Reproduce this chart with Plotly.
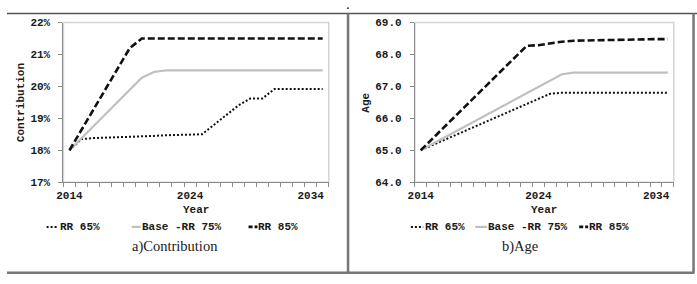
import plotly.graph_objects as go

W, H = 697, 284

years = list(range(2014, 2036))

# a) Contribution (%)
contrib_rr65 = [18.0, 18.35, 18.38, 18.39, 18.40, 18.42, 18.44, 18.45, 18.47, 18.48, 18.49, 18.50,
                18.80, 19.10, 19.40, 19.62, 19.62, 19.92, 19.92, 19.92, 19.92, 19.92]
contrib_base = [18.0, 18.38, 18.76, 19.13, 19.51, 19.89, 20.27, 20.45, 20.50, 20.50, 20.50, 20.50,
                20.50, 20.50, 20.50, 20.50, 20.50, 20.50, 20.50, 20.50, 20.50, 20.50]
contrib_rr85 = [18.0, 18.64, 19.28, 19.92, 20.56, 21.20, 21.50, 21.50, 21.50, 21.50, 21.50, 21.50,
                21.50, 21.50, 21.50, 21.50, 21.50, 21.50, 21.50, 21.50, 21.50, 21.50]

# b) Age
age_rr65 = [65.0, 65.16, 65.32, 65.48, 65.64, 65.81, 65.97, 66.13, 66.29, 66.45, 66.61, 66.77,
            66.80, 66.80, 66.80, 66.80, 66.80, 66.80, 66.80, 66.80, 66.80, 66.80]
age_base = [65.0, 65.20, 65.40, 65.59, 65.79, 65.99, 66.19, 66.39, 66.58, 66.78, 66.98, 67.18,
            67.38, 67.43, 67.43, 67.43, 67.43, 67.43, 67.43, 67.43, 67.43, 67.43]
age_rr85 = [65.0, 65.36, 65.73, 66.09, 66.45, 66.82, 67.18, 67.54, 67.91, 68.27, 68.29, 68.35,
            68.40, 68.43, 68.44, 68.45, 68.46, 68.46, 68.47, 68.47, 68.48, 68.48]

series_names = ["RR 65%", "Base -RR 75%", "RR 85%"]
x_ticks = [2014, 2024, 2034]
contrib_ticks = [17, 18, 19, 20, 21, 22]
age_ticks = [64, 65, 66, 67, 68, 69]


def px(x):
    return x / W


def py(y):
    return 1 - y / H


MONO = "Liberation Mono"
TXT = "#1a1a1a"
AXC = "#8c8c8c"
styles = [
    dict(color="#111111", width=2, dash="2px,2px"),
    dict(color="#c0c0c0", width=2.2, dash="solid"),
    dict(color="#111111", width=2.6, dash="7px,3px"),
]
swatch_dash = ["2px,2px", "solid", "4px,2px"]

fig = go.Figure()
for vals, st, nm in zip([contrib_rr65, contrib_base, contrib_rr85], styles, series_names):
    fig.add_trace(go.Scatter(x=years, y=vals, mode="lines", line=st, name=nm,
                             xaxis="x", yaxis="y", showlegend=False))
for vals, st, nm in zip([age_rr65, age_base, age_rr85], styles, series_names):
    fig.add_trace(go.Scatter(x=years, y=vals, mode="lines", line=st, name=nm,
                             xaxis="x2", yaxis="y2", showlegend=False))

minor_vals = [y - 0.5 for y in years] + [years[-1] + 0.5]
tickfont = dict(family=MONO, size=11, color=TXT, weight=700)


def xaxis(domain, anchor):
    return dict(domain=domain, anchor=anchor, range=[2013.5, 2035.5],
                tickmode="array", tickvals=x_ticks, ticktext=[str(v) for v in x_ticks],
                ticks="", showgrid=False, zeroline=False, showline=True,
                linecolor=AXC, linewidth=1, tickfont=tickfont, ticklabelstandoff=3,
                minor=dict(tickmode="array", tickvals=minor_vals, ticks="outside",
                           ticklen=4, tickcolor=AXC, showgrid=False))


def yaxis(domain, anchor, rng, tv, tt):
    return dict(domain=domain, anchor=anchor, range=rng, tickmode="array",
                tickvals=tv, ticktext=tt, ticks="outside", ticklen=4, tickcolor=AXC,
                showgrid=False, zeroline=False, showline=True, linecolor=AXC,
                linewidth=1, tickfont=tickfont, ticklabelstandoff=6)


ydom = [py(185), py(18.3)]
fig.update_layout(
    width=W, height=H, margin=dict(l=0, r=0, t=0, b=0),
    paper_bgcolor="white", plot_bgcolor="white",
    xaxis=xaxis([px(57), px(325)], "y"),
    yaxis=yaxis(ydom, "x", [17, 22], contrib_ticks, [f"{v}%" for v in contrib_ticks]),
    xaxis2=xaxis([px(412), px(673.5)], "y2"),
    yaxis2=yaxis(ydom, "x2", [64, 69], age_ticks, [f"{v:.1f}" for v in age_ticks]),
)

shapes = []
# plot area borders
for xr, yr in [("x domain", "y domain"), ("x2 domain", "y2 domain")]:
    shapes.append(dict(type="rect", xref=xr, yref=yr, x0=0, x1=1, y0=0, y1=1,
                       line=dict(color="#d4d4d4", width=1.5), layer="below"))
# outer frame
FR = "#555555"
shapes += [
    dict(type="line", xref="paper", yref="paper", x0=0, x1=1, y0=py(9), y1=py(9),
         line=dict(color=FR, width=1.5)),
    dict(type="line", xref="paper", yref="paper", x0=0, x1=px(693.5), y0=py(279.5), y1=py(279.5),
         line=dict(color="#777777", width=2.5)),
    dict(type="line", xref="paper", yref="paper", x0=px(693.5), x1=px(693.5), y0=py(9), y1=py(280.5),
         line=dict(color="#777777", width=2.5)),
    dict(type="line", xref="paper", yref="paper", x0=px(344.5), x1=px(344.5), y0=py(9), y1=py(280.5),
         line=dict(color="#777777", width=2.5)),
    dict(type="circle", xref="paper", yref="paper", x0=px(343.3), x1=px(345.3),
         y0=py(4.3), y1=py(2.3), fillcolor="#333333", line=dict(width=0)),
]

annotations = []


def ann(text, x, y, font, xanchor="center", angle=0):
    return dict(text=text, x=px(x), y=py(y), xref="paper", yref="paper",
                xanchor=xanchor, yanchor="middle", textangle=angle, showarrow=False,
                font=font, borderpad=0)


# axis titles
annotations.append(ann("Contribution", 14, 101.6, tickfont, angle=-90))
annotations.append(ann("Age", 363, 101.6, tickfont, angle=-90))
for cx in [191, 542.7]:
    annotations.append(ann("Year", cx, 214, tickfont))

# legends (swatch start, swatch end, text start) per item
legend_pos = [
    [(40, 52, 52.7), (126, 135, 135), (244, 253, 253)],
    [(408, 420.5, 421), (473, 485, 485), (578, 587, 587)],
]
LY = 231.7
for items in legend_pos:
    for (s0, s1, t0), st, sd, nm in zip(items, styles, swatch_dash, series_names):
        shapes.append(dict(type="line", xref="paper", yref="paper", x0=px(s0), x1=px(s1),
                           y0=py(LY), y1=py(LY),
                           line=dict(color=st["color"], width=st["width"], dash=sd)))
        annotations.append(ann(nm, t0, LY, tickfont, xanchor="left"))

for txt, cx in [("a)Contribution", 170), ("b)Age", 518.5)]:
    annotations.append(ann(txt, cx, 252.5,
                           dict(family="Liberation Serif", size=14.5, color=TXT)))

fig.update_layout(shapes=shapes, annotations=annotations)
fig.write_html("out.html")
